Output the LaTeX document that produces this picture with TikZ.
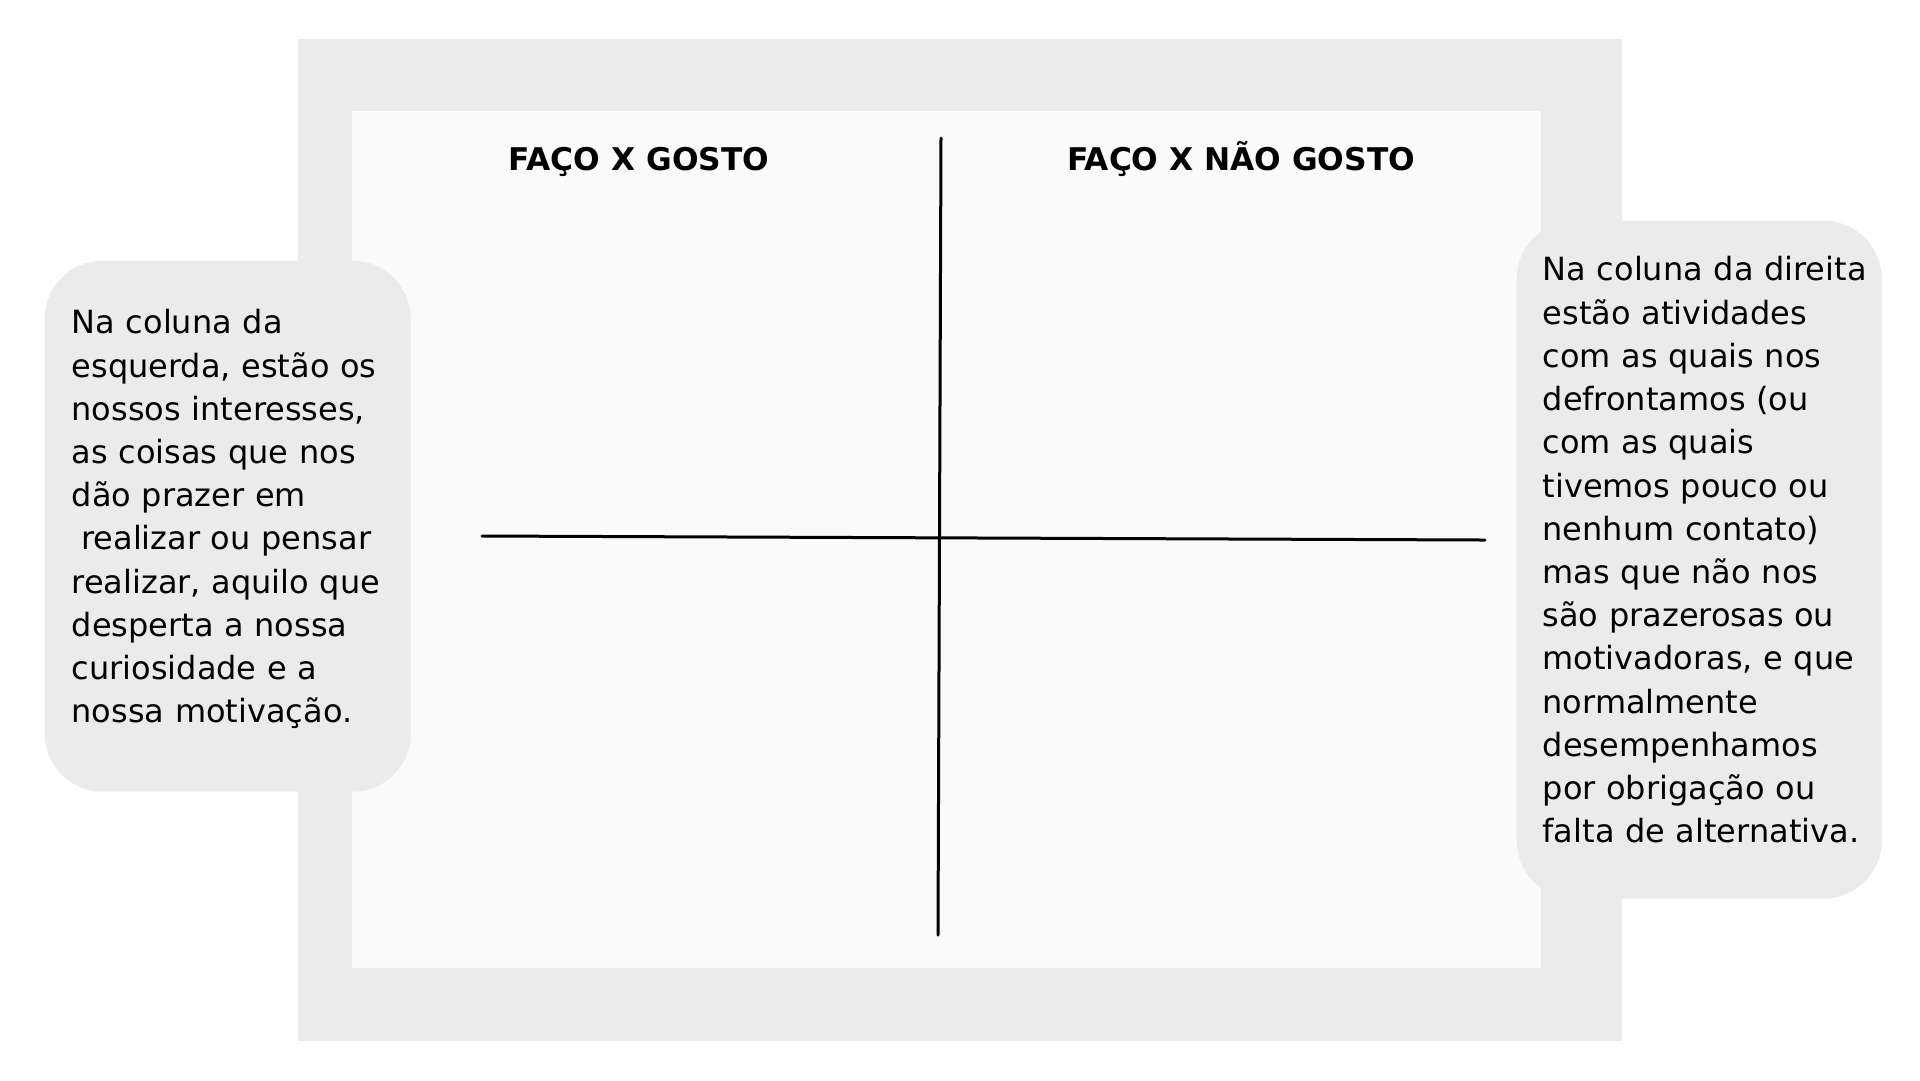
\documentclass[tikz,border=0pt]{standalone}
\usepackage{fontspec}
\setmainfont{DejaVu Sans}
\usepackage{xcolor}
\usetikzlibrary{positioning}
\definecolor{panelgray}{HTML}{EBEBEB}
\definecolor{sheetwhite}{HTML}{FAFAFA}
\hyphenpenalty=10000
\exhyphenpenalty=10000
\newcommand{\lastdepth}{\rule[-2mm]{0pt}{0pt}}

\begin{document}
\begin{tikzpicture}[
   x=0.1mm, y=-0.1mm,
   note/.style={fill=panelgray, rounded corners=5.8mm, align=left, anchor=north west,
                inner ysep=0pt, font=\fontsize{9.1}{12.3}\selectfont},
   heading/.style={anchor=base, font=\bfseries\fontsize{8.9}{10}\selectfont},
   axis/.style={line width=0.3mm, line cap=round}]

  \useasboundingbox (0,0) rectangle (1920,1080);

  % frame and sheet
  \fill[panelgray] (298,39) rectangle (1622,1041);
  \fill[sheetwhite] (352,111) rectangle (1541,968);

  \node[heading] (gosto) at (639,170) {FAÇO X GOSTO};
  \node[heading] (naogosto) at (1241,170) {FAÇO X NÃO GOSTO};

  \coordinate (vtop) at (941,138);
  \coordinate (vbot) at (938,935);
  \coordinate (hleft) at (482,536);
  \coordinate (hright) at (1485,540);
  \draw[axis] (vtop) -- (vbot);
  \draw[axis] (hleft) -- (hright);

  \node[note, minimum width=36.6mm, minimum height=53.1mm, text width=31.2mm,
        inner xsep=2.7mm] (leftnote) at (44,260)
       {Na coluna da\\esquerda, estão os\\nossos interesses,\\as coisas que nos\\
        dão prazer em\\\hspace*{0.3em}realizar ou pensar\\\mbox{realizar, aquilo que}\\
        desperta a nossa\\curiosidade e a\\nossa motivação.\lastdepth};
  \node[note, minimum width=36.5mm, minimum height=67.8mm, text width=31.3mm,
        inner xsep=2.6mm] (rightnote) at (1516,220)
       {\mbox{Na coluna da direita}\\estão atividades\\com as quais nos\\defrontamos (ou\\
        com as quais\\tivemos pouco ou\\nenhum contato)\\mas que não nos\\
        são prazerosas ou\\\mbox{motivadoras, e que}\\normalmente\\desempenhamos\\
        por obrigação ou\\\mbox{falta de alternativa.}\lastdepth};
\end{tikzpicture}
\end{document}
